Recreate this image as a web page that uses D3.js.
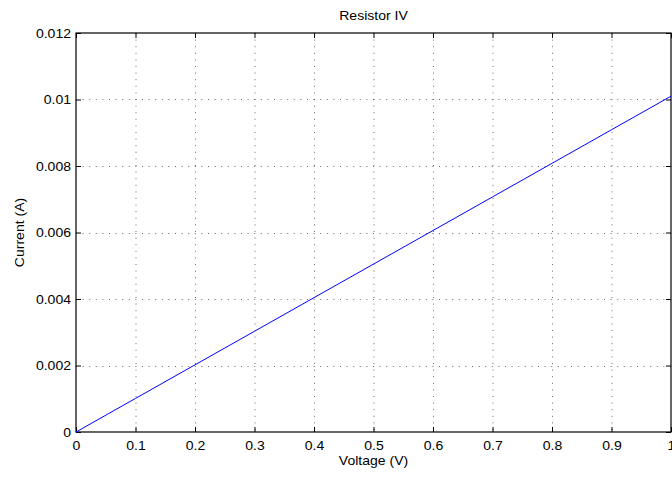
<!doctype html>
<html lang="en">
  <head>
    <meta charset="utf-8">
    <title>Resistor IV</title>
    <style>
    body { margin: 0; background: #fff; }
    text { font-family: "Liberation Sans", Arial, Helvetica, sans-serif; font-size: 12px; fill: #000; }
    .grid line { stroke: #444; stroke-width: 0.8; stroke-dasharray: 1,5.6; }
    </style>
    <script src="https://d3js.org/d3.v7.min.js"></script>
  </head>
  <body>
    <svg width="672" height="477"></svg>
    <script>

    // measured data (V, A)
    var voltage = [0, 0.1, 0.2, 0.3, 0.4, 0.5, 0.6, 0.7, 0.8, 0.9, 1.0];
    var current = [0, 0.00101, 0.00202, 0.00303, 0.00404, 0.00505, 0.00606, 0.00707, 0.00808, 0.00909, 0.0101];
    var xTicks = [0, 0.1, 0.2, 0.3, 0.4, 0.5, 0.6, 0.7, 0.8, 0.9, 1];
    var yTicks = [0, 0.002, 0.004, 0.006, 0.008, 0.01, 0.012];

    var svg = d3.select("svg"),
        pl = 76, pr = 671, pt = 33, pb = 432,
        sx = 1.17; // text is a bit wider than plain Arial

    var x = d3.scaleLinear().domain([0, 1]).range([pl, pr]);
    var y = d3.scaleLinear().domain([0, 0.012]).range([pb, pt]);

    // grid
    var grid = svg.append("g").attr("class", "grid");
    grid.selectAll(".gx").data(xTicks.slice(1, -1)).enter().append("line")
        .attr("x1", function(d) { return x(d) + 0.5; })
        .attr("x2", function(d) { return x(d) + 0.5; })
        .attr("y1", pt).attr("y2", pb);
    grid.selectAll(".gy").data(yTicks.slice(1, -1)).enter().append("line")
        .attr("y1", function(d) { return Math.round(y(d)) + 0.5; })
        .attr("y2", function(d) { return Math.round(y(d)) + 0.5; })
        .attr("x1", pl).attr("x2", pr);

    // axes, ticks pointing inward
    var fmt = function(d) { return String(+d.toFixed(4)); };
    var xAxis = svg.append("g").attr("transform", "translate(0," + pb + ")")
        .call(d3.axisBottom(x).tickValues(xTicks).tickSize(-5).tickPadding(0).tickFormat(fmt));
    var xTop = svg.append("g").attr("transform", "translate(0," + pt + ")")
        .call(d3.axisTop(x).tickValues(xTicks).tickSize(-5).tickFormat(""));
    var yAxis = svg.append("g").attr("transform", "translate(" + pl + ",0)")
        .call(d3.axisLeft(y).tickValues(yTicks).tickSize(-5).tickPadding(0).tickFormat(fmt));
    var yRight = svg.append("g").attr("transform", "translate(" + pr + ",0)")
        .call(d3.axisRight(y).tickValues(yTicks).tickSize(-5).tickFormat(""));

    svg.selectAll(".domain").remove();
    svg.selectAll(".tick line").attr("stroke", "#000");
    svg.selectAll("g").attr("font-size", null).attr("font-family", null);

    xAxis.selectAll(".tick text")
        .attr("y", 0).attr("dy", null)
        .attr("transform", "translate(0,18) scale(" + sx + ",1)");
    yAxis.selectAll(".tick text")
        .attr("x", 0).attr("dy", "0.35em")
        .attr("transform", "translate(-5,0) scale(" + sx + ",1)");

    // box
    svg.append("rect")
        .attr("x", pl).attr("y", pt)
        .attr("width", pr - pl).attr("height", pb - pt)
        .attr("fill", "none").attr("stroke", "#000").attr("stroke-width", 1.2);

    // IV line
    var line = d3.line()
        .x(function(d, i) { return x(voltage[i]); })
        .y(function(d) { return y(d); });
    svg.append("path")
        .datum(current)
        .attr("d", line)
        .attr("fill", "none")
        .attr("stroke", "#0000ff")
        .attr("stroke-width", 1);

    // labels
    var cx = (pl + pr) / 2;
    svg.append("text")
        .attr("text-anchor", "middle")
        .attr("transform", "translate(" + cx + ",20) scale(" + sx + ",1)")
        .text("Resistor IV");
    svg.append("text")
        .attr("text-anchor", "middle")
        .attr("transform", "translate(" + cx + ",465) scale(" + sx + ",1)")
        .text("Voltage (V)");
    svg.append("text")
        .attr("text-anchor", "middle")
        .attr("transform", "translate(24," + (pt + pb) / 2 + ") rotate(-90) scale(" + sx + ",1)")
        .text("Current (A)");

    </script>
  </body>
</html>
